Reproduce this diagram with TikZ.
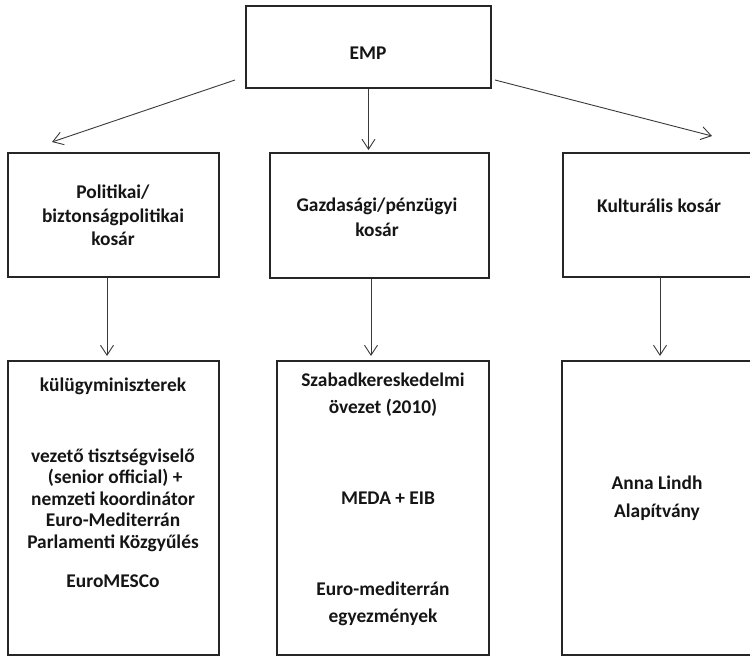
\documentclass[tikz,border=0pt]{standalone}
\usepackage{fontspec}
\setmainfont{Carlito}
\usetikzlibrary{arrows.meta}
\definecolor{boxline}{HTML}{262626}
\definecolor{arrline}{HTML}{3A3A3A}
\definecolor{txtcol}{HTML}{151515}
\tikzset{
  box/.style={draw=boxline, line width=2pt, fill=white, inner sep=0pt},
  openbox/.style={fill=white, inner sep=0pt},
  txt/.style={text=txtcol, align=center, inner sep=0pt, font=\fontsize{19.4}{21.5}\selectfont\bfseries},
  arr/.style={draw=arrline, line width=0.9pt, -{Straight Barb[length=10pt,width=13pt,line width=0.9pt]}}
}
\begin{document}
\begin{tikzpicture}[x=1pt,y=-1pt]
\useasboundingbox[fill=white] (0,0) rectangle (750,656);
% boxes
\node[box, minimum width=245pt, minimum height=82pt] (emp) at (368.5,47) {};
\node[box, minimum width=211pt, minimum height=124pt] (pol) at (113.5,215) {};
\node[box, minimum width=219pt, minimum height=125pt] (gaz) at (379.5,215.5) {};
\node[openbox, minimum width=187pt, minimum height=124pt] (kul) at (656.5,215) {};
\node[box, minimum width=211pt, minimum height=294pt] (pol2) at (113.5,508) {};
\node[box, minimum width=212pt, minimum height=294pt] (gaz2) at (383,508) {};
\node[openbox, minimum width=188pt, minimum height=294pt] (kul2) at (656,508) {};
% boxes cut by the right edge of the page: drawn open on the right
\draw[draw=boxline, line width=2pt] (kul.north east) -- (kul.north west) -- (kul.south west) -- (kul.south east);
\draw[draw=boxline, line width=2pt] (kul2.north east) -- (kul2.north west) -- (kul2.south west) -- (kul2.south east);
% texts
\node[txt] (tEmp) at (368,53) {EMP};
\node[txt, font=\fontsize{19.4}{23.5}\selectfont\bfseries] (tPol) at (113,215.5) {Politikai/\\biztonságpolitikai\\kosár};
\node[txt, font=\fontsize{19.4}{25}\selectfont\bfseries] (tGaz) at (377,217.5) {Gazdasági/pénzügyi\\kosár};
\node[txt] (tKul) at (659,206) {Kulturális kosár};
\node[txt] (tKm) at (113,386) {külügyminiszterek};
\node[txt] (tVez) at (113,500) {vezető tisztségviselő\\\ (senior official) +\\nemzeti koordinátor\\Euro-Mediterrán\\Parlamenti Közgyűlés};
\node[txt] (tEms) at (113,581) {EuroMESCo};
\node[txt, font=\fontsize{19.4}{27}\selectfont\bfseries] (tSza) at (383,394.5) {Szabadkereskedelmi\\övezet (2010)};
\node[txt] (tMeda) at (388,498) {MEDA + EIB};
\node[txt, font=\fontsize{19.4}{27}\selectfont\bfseries] (tEur) at (383,603.5) {Euro-mediterrán\\egyezmények};
\node[txt, font=\fontsize{19.4}{28}\selectfont\bfseries] (tAnna) at (657,498) {Anna Lindh\\Alapítvány};
% connector end points
\coordinate (lS) at (235,80);
\coordinate (lE) at (52,142);
\coordinate (rS) at (495,80);
\coordinate (rE) at (712,136);
\coordinate (mE) at (368.5,150);
\coordinate (a1) at (107,356);
\coordinate (a2) at (371,356);
\coordinate (a3) at (660,356);
% connectors
\draw[arr] (lS) -- (lE);
\draw[arr] (rS) -- (rE);
\draw[arr] (emp.south) -- (mE);
\draw[arr] (pol.south -| a1) -- (a1);
\draw[arr] (gaz.south -| a2) -- (a2);
\draw[arr] (kul.south -| a3) -- (a3);
\end{tikzpicture}
\end{document}
